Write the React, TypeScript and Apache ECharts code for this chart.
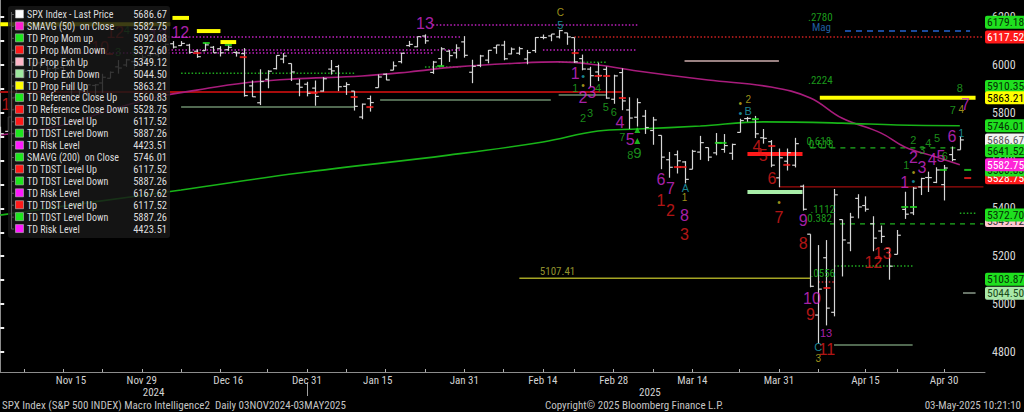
import React, { useEffect, useRef } from "react";
import * as echarts from "echarts";

// ---------- DATA ----------
const monthDays: [string, number[]][] = [
  ["Nov", [4, 5, 6, 7, 8, 11, 12, 13, 14, 15, 18, 19, 20, 21, 22, 25, 26, 27, 29]],
  ["Dec", [2, 3, 4, 5, 6, 9, 10, 11, 12, 13, 16, 17, 18, 19, 20, 23, 24, 26, 27, 30, 31]],
  ["Jan", [2, 3, 6, 7, 8, 10, 13, 14, 15, 16, 17, 21, 22, 23, 24, 27, 28, 29, 30, 31]],
  ["Feb", [3, 4, 5, 6, 7, 10, 11, 12, 13, 14, 18, 19, 20, 21, 24, 25, 26, 27, 28]],
  ["Mar", [3, 4, 5, 6, 7, 10, 11, 12, 13, 14, 17, 18, 19, 20, 21, 24, 25, 26, 27, 28, 31]],
  ["Apr", [1, 2, 3, 4, 7, 8, 9, 10, 11, 14, 15, 16, 17, 21, 22, 23, 24, 25, 28, 29, 30]],
  ["May", [1, 2]],
];
const dates: string[] = monthDays.flatMap(([m, ds]) => ds.map((d) => `${m} ${d}`));

const xLabelDates = ["Nov 15", "Nov 29", "Dec 16", "Dec 31", "Jan 15", "Jan 31", "Feb 14", "Feb 28", "Mar 14", "Mar 31", "Apr 15", "Apr 30"];
const xTickDates = ["Nov 7", "Nov 14", "Nov 21", "Nov 29", "Dec 6", "Dec 13", "Dec 23", "Dec 31", "Jan 8", "Jan 16", "Jan 24", "Jan 31", "Feb 7", "Feb 14", "Feb 21", "Feb 28", "Mar 7", "Mar 14", "Mar 24", "Mar 31", "Apr 7", "Apr 15", "Apr 22", "Apr 30"];
const years = ["2024", "2025"];
const yLabels = [4800, 5000, 5200, 5400, 5600, 5800, 6000, 6200];
const yTicks = [4800, 4900, 5000, 5100, 5200, 5300, 5400, 5500, 5600, 5700, 5800, 5900, 6000, 6100, 6200];

// open, high, low, close
const ohlc: number[][] = [
  [5723.22, 5741.43, 5696.51, 5712.69], [5722.43, 5783.44, 5722.1, 5782.76], [5864.89, 5936.14, 5864.89, 5929.04],
  [5947.21, 5983.84, 5947.21, 5973.1], [5976.76, 6012.45, 5976.76, 5995.54], [6008.86, 6017.31, 5986.69, 6001.35],
  [6003.6, 6009.92, 5960.08, 5983.99], [5985.75, 6008.19, 5965.91, 5985.38], [5989.68, 5993.88, 5946.91, 5949.17],
  [5912.79, 5915.92, 5853.01, 5870.62], [5874.17, 5908.12, 5865.95, 5893.62], [5857.3, 5917.14, 5850.94, 5916.98],
  [5914.38, 5920.59, 5860.14, 5917.11], [5924.77, 5963.44, 5883.53, 5948.71], [5944.36, 5972.9, 5944.36, 5969.34],
  [5992.28, 6020.75, 5963.91, 5987.37], [6000.03, 6025.42, 5992.27, 6021.63], [6014.11, 6020.16, 5984.87, 5998.74],
  [6003.98, 6044.17, 6003.98, 6032.38],
  [6040.11, 6053.58, 6035.33, 6047.15], [6042.97, 6052.07, 6033.39, 6049.88], [6069.39, 6089.84, 6061.06, 6086.49],
  [6089.03, 6099.97, 6069.39, 6075.11], [6081.38, 6099.97, 6079.98, 6090.27], [6083.01, 6088.51, 6047.49, 6052.85],
  [6057.59, 6065.4, 6029.89, 6034.91], [6060.15, 6092.59, 6060.15, 6084.19], [6074.29, 6079.68, 6051.25, 6051.25],
  [6068.17, 6078.58, 6035.77, 6051.09], [6063.79, 6085.19, 6059.14, 6074.08], [6052.55, 6057.68, 6035.19, 6050.61],
  [6047.65, 6070.67, 5867.79, 5872.16], [5912.71, 5935.52, 5866.07, 5867.08], [5842.0, 5982.06, 5832.3, 5930.85],
  [5940.25, 5978.25, 5902.57, 5974.07], [5984.74, 6040.1, 5981.44, 6040.04], [6024.97, 6049.75, 6007.37, 6037.59],
  [6006.17, 6006.17, 5932.95, 5970.84], [5920.67, 5940.79, 5869.16, 5906.94], [5919.74, 5929.74, 5868.86, 5881.63],
  [5903.26, 5935.09, 5829.53, 5868.55], [5891.07, 5949.34, 5888.66, 5942.47], [5982.81, 6021.04, 5960.01, 5975.38],
  [5993.26, 6000.68, 5890.68, 5909.03], [5910.66, 5927.89, 5874.78, 5918.25], [5890.66, 5890.66, 5809.37, 5827.04],
  [5782.29, 5838.78, 5773.31, 5836.22], [5859.11, 5871.92, 5805.12, 5842.91], [5905.21, 5960.61, 5905.21, 5949.91],
  [5961.39, 5964.69, 5936.33, 5937.34], [5978.45, 6014.96, 5978.45, 5996.66], [6014.12, 6051.51, 6006.88, 6049.24],
  [6081.39, 6100.81, 6076.13, 6086.37], [6076.32, 6118.73, 6074.67, 6118.71], [6121.43, 6128.18, 6088.74, 6101.24],
  [5969.04, 6017.17, 5962.92, 6012.28], [6026.97, 6074.54, 5994.63, 6067.7], [6057.7, 6062.83, 6012.96, 6039.31],
  [6050.75, 6086.64, 6027.46, 6071.17], [6096.79, 6120.91, 6030.93, 6040.53],
  [5969.65, 6022.13, 5923.93, 5994.57], [5998.14, 6042.48, 5990.87, 6037.88], [6020.45, 6062.86, 6007.06, 6061.48],
  [6072.22, 6084.03, 6046.83, 6083.57], [6083.13, 6101.28, 6019.96, 6025.99], [6046.4, 6073.38, 6044.84, 6066.44],
  [6049.32, 6076.28, 6042.34, 6068.5], [6025.08, 6063.18, 6003.0, 6051.97], [6060.59, 6116.91, 6051.07, 6115.07],
  [6115.52, 6127.47, 6107.62, 6114.63], [6121.6, 6129.63, 6099.51, 6129.58], [6117.76, 6147.43, 6111.15, 6144.15],
  [6134.5, 6134.5, 6084.59, 6117.52], [6114.82, 6114.82, 6008.56, 6013.13], [6026.69, 6043.65, 5977.83, 5983.25],
  [5982.73, 5992.65, 5908.49, 5955.25], [5970.87, 6009.82, 5932.69, 5956.06], [5981.88, 5993.69, 5858.78, 5861.57],
  [5856.74, 5959.4, 5837.66, 5954.5],
  [5968.33, 5986.09, 5810.91, 5849.72], [5811.98, 5865.08, 5732.59, 5778.15], [5781.46, 5860.59, 5742.35, 5842.63],
  [5785.87, 5812.08, 5711.64, 5738.52], [5726.01, 5783.01, 5666.29, 5770.2], [5705.37, 5705.37, 5564.02, 5614.56],
  [5603.65, 5636.3, 5528.41, 5572.07], [5624.84, 5642.19, 5546.09, 5599.3], [5594.45, 5597.78, 5504.65, 5521.52],
  [5563.85, 5645.27, 5563.85, 5638.94], [5635.6, 5703.52, 5603.1, 5675.12], [5654.53, 5654.53, 5597.76, 5614.66],
  [5632.37, 5715.33, 5622.2, 5675.29], [5646.92, 5711.15, 5632.95, 5662.89], [5630.73, 5670.84, 5603.1, 5667.56],
  [5718.08, 5775.14, 5718.08, 5767.57], [5775.78, 5783.02, 5762.67, 5776.65], [5771.66, 5786.95, 5694.23, 5712.2],
  [5695.64, 5732.28, 5670.94, 5693.31], [5679.31, 5685.89, 5572.42, 5580.94], [5527.91, 5650.57, 5488.73, 5611.85],
  [5597.53, 5650.57, 5558.52, 5633.07], [5580.76, 5695.31, 5571.48, 5670.97], [5492.74, 5499.53, 5390.83, 5396.52],
  [5292.14, 5292.14, 5069.9, 5074.08], [4953.79, 5246.57, 4835.04, 5062.25], [5193.57, 5267.47, 4910.42, 4982.77],
  [4965.28, 5481.34, 4948.43, 5456.9], [5353.15, 5353.15, 5115.27, 5268.05], [5255.56, 5381.46, 5220.77, 5363.36],
  [5441.96, 5459.46, 5358.02, 5405.97], [5411.99, 5450.41, 5386.44, 5396.63], [5335.75, 5367.24, 5220.79, 5275.7],
  [5305.45, 5328.31, 5255.58, 5282.7], [5232.94, 5232.94, 5101.63, 5158.2], [5207.67, 5309.6, 5207.67, 5287.76],
  [5395.93, 5469.69, 5356.09, 5375.86], [5381.38, 5489.4, 5371.96, 5484.77], [5489.73, 5528.11, 5455.86, 5525.21],
  [5529.22, 5553.66, 5468.64, 5528.75], [5508.87, 5571.95, 5505.7, 5560.83], [5499.44, 5581.84, 5433.24, 5569.06],
  [5625.14, 5658.91, 5597.35, 5604.14], [5645.24, 5700.69, 5645.24, 5686.67],
];

// moving averages: [day index, value]
const sma50: number[][] = [[0, 5707], [8, 5749], [14, 5812], [20, 5866], [25, 5895], [31, 5925], [37, 5941], [46, 5954], [52, 5971], [58, 5992], [66, 6008], [71, 6013], [76, 6000], [81, 5975], [90, 5937], [98, 5908], [103, 5862], [107, 5778], [112, 5715], [115, 5657], [119, 5615], [122, 5582.75]];
const sma200: number[][] = [[0, 5372], [11, 5423], [23, 5477], [38, 5548], [57, 5623], [69, 5678], [76, 5724], [81, 5732], [89, 5745], [97, 5762], [107, 5757], [114, 5749], [122, 5746.01]];

// horizontal level segments: [from index, to index, value]
const propFullUp = [[0, 21.6, 6171], [21.9, 24, 6197], [25, 28, 6142], [28, 30, 6096], [104.2, 124, 5863.21]];
const momDownBar = [[95, 102, 5628]];
const exhDownBar = [[95, 102, 5469]];
const tdstUpDotted = [[73, 125, 6117.52]];
const riskDotted = [[20, 58.5, 6117], [20, 58.5, 6063], [69, 81, 6063], [7.6, 55, 6050], [55, 81, 6167.62]];
const tdstDownSolid = [[0, 79, 5887.26]];
const greenDotted = [[23, 45, 5966], [54, 58.5, 5992], [71, 77, 6012], [106, 116, 5159], [122, 124, 5380]];
const refLines = [[23, 45, 5824], [48.3, 70, 5854], [71, 77, 5874], [106, 116, 4828]];
const exhUpLine = [[87, 99, 6017]];
const refCloseDown = [[99, 125, 5490]];
const fibDashed = [[103, 122, 5653], [105.5, 125, 5335]];
const targetLine = [[66, 103, 5107.41]];
const magLine = [[107.4, 123.3, 6142]];
const grayShort = [[122.4, 124, 5046]];
const redDottedShort = [[104, 106, 5092]];

// TD count annotations: [day index, value, text]
const magentaCounts: any[] = [[54, 6172, "13"], [22.9, 6138, "12"], [20.1, 6125, "13"], [73.1, 5966, "1"], [74.1, 5862, "2"], [75.2, 5883, "3"], [78.8, 5761, "4"], [80.1, 5690, "5"], [84, 5519, "6"], [85.2, 5485, "7"], [87, 5372, "8"], [102.1, 5351, "9"], [103.2, 5025, "10"], [115, 5510, "1"], [116.1, 5615, "2"], [117.2, 5573, "3"], [118.5, 5603, "4"], [119.6, 5619, "5"], [121, 5699, "6"], [122.7, 5833, "7"]];
const magentaSmall: any[] = [[105, 4879, "13"]];
const redCounts: any[] = [[14.6, 6134, "12"], [12.7, 6075, "10"], [1.3, 5833, "10"], [84, 5435, "1"], [85.2, 5393, "2"], [87, 5289, "3"], [96.2, 5657, "4"], [97, 5623, "5"], [98.1, 5527, "6"], [99, 5360, "7"], [102.1, 5255, "8"], [103, 4958, "9"], [105.1, 4808, "11"], [111, 5172, "12"], [112.2, 5213, "13"]];
const greenCounts: any[] = [[16.1, 6146, "4"], [15, 6054, "3"], [17.1, 6054, "5"], [73.1, 5904, "1"], [76, 5904, "4"], [74.1, 5778, "2"], [75, 5799, "3"], [77, 5824, "5"], [78, 5803, "6"], [79.1, 5699, "7"], [80.1, 5623, "8"], [115.2, 5582, "1"], [116.1, 5686, "2"], [117.2, 5644, "3"], [118, 5674, "4"], [119.1, 5695, "5"], [120.1, 5619, "6"], [121.1, 5812, "7"], [122, 5904, "8"]];
const greenNine: any[] = [[81, 5632, "9"]];
const yellowMarks: any[] = [[71.2, 6218, "C"], [87, 5444, "1"], [95.1, 5854, "2"], [104, 4774, "3"], [122.2, 5812, "4"], [74.1, 5916, "•"], [94.1, 5841, "•"], [99, 5423, "•"], [116.1, 5552, "•"]];
const cyanMarks: any[] = [[71.2, 6167, "5"], [87.1, 5485, "A"], [95.1, 5808, "B"], [104, 4820, "C"], [122.2, 5715, "1"], [74.1, 5954, "•"], [94.1, 5799, "•"], [116.1, 5515, "•"]];
const fibLabels: any[] = [[102.7, 6197, ".2780"], [102.7, 5937, ".2224"], [102.5, 5678, "0.618"], [102.8, 5669, "0.618"], [103, 5397, ".1112"], [102.6, 5356, "0.382"], [103, 5126, ".0556"]];
const magLabel: any[] = [[103.2, 6159, "Mag"]];
const targetLabel: any[] = [[68.6, 5134, "5107.41"]];
const redTicks: number[][] = [[13.9, 6046], [25, 6050], [30.9, 6033], [39.9, 5883], [45, 5866], [47, 5824], [73.1, 6050], [76, 5954], [77.1, 5954], [79.1, 5862], [86.1, 5573], [86.8, 5573], [98.1, 5661], [100, 5582], [105.1, 5067], [123, 5527]];
const greenTicks: number[][] = [[26.2, 6092], [29, 6084], [56, 5996], [91.3, 5674], [91.9, 5674], [96, 5774], [115, 5406], [116.1, 5406], [119.9, 5561], [123, 5561]];
const greenArrows: number[][] = [[81, 5728], [81, 5682]];

// right-hand value tags
const tagValues = [6179.18, 6117.52, 5910.35, 5863.21, 5746.01, 5686.67, 5641.52, 5528.75, 5560.83, 5582.75, 5349.12, 5372.7, 5103.87, 5044.5];
const tagKinds = ["green", "red", "green", "yellow", "green", "white", "green", "red", "green", "magenta", "pink", "green", "green", "light"];

// legend
const legendNames = ["SPX Index - Last Price", "SMAVG (50)  on Close", "TD Prop Mom up", "TD Prop Mom Down", "TD Prop Exh Up", "TD Prop Exh Down", "TD Prop Full Up", "TD Reference Close Up", "TD Reference Close Down", "TD TDST Level Up", "TD TDST Level Down", "TD Risk Level", "SMAVG (200)  on Close", "TD TDST Level Up", "TD TDST Level Down", "TD Risk Level", "TD TDST Level Up", "TD TDST Level Down", "TD Risk Level"];
const legendValues = ["5686.67", "5582.75", "5092.08", "5372.60", "5349.12", "5044.50", "5863.21", "5560.83", "5528.75", "6117.52", "5887.26", "4423.51", "5746.01", "6117.52", "5887.26", "6167.62", "6117.52", "5887.26", "4423.51"];
const legendColors = ["#ffffff", "#ff1fd0", "#1ee61e", "#ff1a1a", "#ffb6c8", "#9ee89e", "#ffff00", "#1ee61e", "#ff1a1a", "#ff1a1a", "#1ee61e", "#ff1aff", "#1ee61e", "#ff1a1a", "#1ee61e", "#ff1aff", "#ff1a1a", "#1ee61e", "#ff1aff"];

const footerLeft = "SPX Index (S&P 500 INDEX) Macro Intelligence2  Daily 03NOV2024-03MAY2025";
const footerMid = "Copyright\u00a9 2025 Bloomberg Finance L.P.";
const footerRight = "03-May-2025 10:21:10";

// ---------- STYLE ----------
const FONT = "'Liberation Sans Narrow','Arial Narrow','Roboto Condensed','DejaVu Sans Condensed',sans-serif";
const FONT2 = "'Liberation Sans',Arial,sans-serif";
const tagStyle: Record<string, { bg: string; fg: string }> = {
  green: { bg: "#1fe01f", fg: "#063006" },
  red: { bg: "#ff1a1a", fg: "#ffffff" },
  yellow: { bg: "#ffff00", fg: "#000000" },
  white: { bg: "#f2f2f2", fg: "#555555" },
  magenta: { bg: "#ff24d8", fg: "#ffffff" },
  pink: { bg: "#ffc8d2", fg: "#333333" },
  light: { bg: "#a8e8a8", fg: "#1a4a1a" },
};

function segSeries(name: string, segs: number[][], color: string, width: number, dash?: number[]) {
  return {
    type: "custom",
    name,
    silent: true,
    z: 1,
    data: segs,
    encode: { x: [0, 1], y: 2 },
    renderItem: (_p: any, api: any) => {
      const a = api.coord([api.value(0), api.value(2)]);
      const b = api.coord([api.value(1), api.value(2)]);
      return {
        type: "line",
        shape: { x1: a[0], y1: a[1], x2: b[0], y2: b[1] },
        style: { stroke: color, lineWidth: width, lineDash: dash || null },
      };
    },
  };
}

function textSeries(name: string, pts: any[], color: string, size: number, align: string = "center", family: string = FONT2) {
  return {
    type: "scatter",
    name,
    silent: true,
    z: 6,
    data: pts,
    symbolSize: 0,
    label: {
      show: true,
      position: "inside",
      align,
      formatter: (p: any) => p.data[2],
      color,
      fontSize: size,
      fontFamily: family,
    },
  };
}

function tickSeries(name: string, pts: number[][], color: string) {
  return {
    type: "scatter",
    name,
    silent: true,
    z: 5,
    data: pts,
    symbol: "rect",
    symbolSize: [7, 2],
    itemStyle: { color },
  };
}

export default function App() {
  const ref = useRef<HTMLDivElement>(null);
  useEffect(() => {
    if (!ref.current) return;
    const chart = echarts.init(ref.current, undefined, { renderer: "svg" });
    const labelIdx = xLabelDates.map((d) => dates.indexOf(d));
    const tickIdx = xTickDates.map((d) => dates.indexOf(d));
    const firstNextYear = dates.indexOf("Jan 2");
    const xMax = 125.2;
    const yearCenters = [(firstNextYear - 1) / 2, (firstNextYear + xMax) / 2];

    const rowY = (i: number) => 14.5 + i * 11.92;
    const legendEls: any[] = [
      { type: "rect", z: 100, shape: { x: 8, y: 6, width: 162, height: 232, r: 3 }, style: { fill: "rgba(24,24,24,0.84)" } },
      { type: "line", z: 101, shape: { x1: 11.5, y1: 12, x2: 11.5, y2: rowY(18) }, style: { stroke: "#5a5a5a", lineWidth: 1 } },
    ];
    legendNames.forEach((name, i) => {
      const y = rowY(i);
      legendEls.push({ type: "line", z: 101, shape: { x1: 11.5, y1: y, x2: 14, y2: y }, style: { stroke: "#5a5a5a", lineWidth: 1 } });
      legendEls.push({ type: "rect", z: 101, shape: { x: 15.5, y: y - 4.5, width: 8, height: 8 }, style: { fill: legendColors[i], stroke: "#bbbbbb", lineWidth: 0.6 } });
      legendEls.push({ type: "text", z: 101, x: 27, y, style: { text: name, fill: "#dcdcdc", font: `10px ${FONT}`, verticalAlign: "middle", align: "left" } });
      legendEls.push({ type: "text", z: 101, x: 167, y, style: { text: legendValues[i], fill: "#dcdcdc", font: `10.5px ${FONT}`, verticalAlign: "middle", align: "right" } });
    });
    const footerEls: any[] = [
      { type: "text", x: 2, y: 405, style: { text: footerLeft, fill: "#c4c4c4", font: `11px ${FONT}`, verticalAlign: "middle" } },
      { type: "text", x: 545, y: 405, style: { text: footerMid, fill: "#c4c4c4", font: `11px ${FONT}`, verticalAlign: "middle" } },
      { type: "text", x: 1021, y: 405, style: { text: footerRight, fill: "#c4c4c4", font: `11px ${FONT}`, verticalAlign: "middle", align: "right" } },
    ];

    const option: any = {
      animation: false,
      backgroundColor: "#000000",
      grid: { left: 0, right: 39, top: 0, bottom: 40, containLabel: false },
      xAxis: [
        {
          type: "value",
          min: -0.025,
          max: xMax,
          position: "bottom",
          splitLine: { show: false },
          axisLine: { show: true, lineStyle: { color: "#8c8c8c", width: 1 } },
          axisTick: { show: true, customValues: tickIdx, inside: true, length: 3, lineStyle: { color: "#b0b0b0" } },
          axisLabel: {
            customValues: labelIdx,
            formatter: (v: number) => dates[Math.round(v)] || "",
            color: "#d2d2d2",
            fontSize: 11,
            margin: 3,
            fontFamily: FONT,
          },
        },
        {
          type: "value",
          min: -0.025,
          max: xMax,
          position: "bottom",
          offset: 10,
          splitLine: { show: false },
          axisLine: { show: false },
          axisTick: { show: false },
          axisLabel: {
            customValues: yearCenters,
            formatter: (v: number) => (v < firstNextYear ? years[0] : years[1]),
            color: "#d2d2d2",
            fontSize: 11,
            margin: 5,
            fontFamily: FONT,
          },
        },
      ],
      yAxis: {
        type: "value",
        position: "right",
        min: 4715.5,
        max: 6272,
        splitLine: { show: false },
        axisLine: { show: true, lineStyle: { color: "#8c8c8c", width: 1 } },
        axisTick: { show: true, customValues: yTicks, length: 4, lineStyle: { color: "#f0f0f0", width: 2 } },
        axisLabel: { customValues: yLabels, formatter: (v: number) => String(v), color: "#d8d8d8", fontSize: 12, margin: 7, fontFamily: FONT },
      },
      series: [
        segSeries("TD Prop Full Up", propFullUp, "#ffff00", 4),
        segSeries("TD Prop Mom Down", momDownBar, "#ff1a1a", 4),
        segSeries("TD Prop Exh Down", exhDownBar, "#a8eea8", 4),
        segSeries("TD TDST Level Up", tdstUpDotted, "#d02020", 1.5, [1.5, 2]),
        segSeries("TD Risk Level", riskDotted, "#c020c0", 1.5, [1.5, 2]),
        segSeries("TD TDST Level Down", tdstDownSolid, "#a80c0c", 2),
        segSeries("TD Reference Up", greenDotted, "#1fa81f", 1.5, [1.5, 2]),
        segSeries("TD Reference", refLines, "#6c8c6c", 1.5),
        segSeries("TD Prop Exh Up", exhUpLine, "#9a8282", 2),
        segSeries("TD Reference Close Down", refCloseDown, "#c81010", 1),
        segSeries("Fib", fibDashed, "#1fb01f", 1.2, [5, 5]),
        segSeries("Target", targetLine, "#a4a424", 1.5),
        segSeries("Mag", magLine, "#2464d0", 1.5, [6, 5]),
        segSeries("Exh Down short", grayShort, "#8a9a8a", 1.5),
        segSeries("Mom short", redDottedShort, "#c02020", 1.5, [1.5, 2]),
        {
          type: "line",
          name: "SMAVG (50)",
          data: sma50,
          smooth: 0.4,
          showSymbol: false,
          silent: true,
          z: 2,
          lineStyle: { color: "#a81c7c", width: 1.6 },
        },
        {
          type: "line",
          name: "SMAVG (200)",
          data: sma200,
          smooth: 0.4,
          showSymbol: false,
          silent: true,
          z: 2,
          lineStyle: { color: "#18b418", width: 1.6 },
          markLine: {
            silent: true,
            symbol: "none",
            animation: false,
            data: tagValues.map((v, i) => ({
              yAxis: v,
              lineStyle: { color: "rgba(0,0,0,0)", width: 0 },
              label: {
                show: true,
                position: "end",
                distance: 0,
                formatter: v.toFixed(2),
                color: tagStyle[tagKinds[i]].fg,
                backgroundColor: tagStyle[tagKinds[i]].bg,
                padding: [1, 2, 0, 2],
                borderRadius: 2,
                fontSize: 11.5,
                fontFamily: FONT,
              },
            })),
          },
        },
        {
          type: "custom",
          name: "SPX Index",
          silent: true,
          z: 3,
          data: ohlc.map((d, i) => [i, ...d]),
          encode: { x: 0, y: [1, 2, 3, 4] },
          renderItem: (_p: any, api: any) => {
            const i = api.value(0);
            const pO = api.coord([i, api.value(1)]);
            const pH = api.coord([i, api.value(2)]);
            const pL = api.coord([i, api.value(3)]);
            const pC = api.coord([i, api.value(4)]);
            const w = api.size([1, 0])[0] * 0.42;
            const x = Math.round(pH[0]) + 0.5;
            const st = { stroke: "#d6d6d6", lineWidth: 1.2 };
            return {
              type: "group",
              children: [
                { type: "line", shape: { x1: x, y1: pH[1], x2: x, y2: pL[1] }, style: st },
                { type: "line", shape: { x1: x - w, y1: pO[1], x2: x, y2: pO[1] }, style: st },
                { type: "line", shape: { x1: x, y1: pC[1], x2: x + w, y2: pC[1] }, style: st },
              ],
            };
          },
        },
        tickSeries("Ref close down", redTicks, "#ff2020"),
        tickSeries("Ref close up", greenTicks, "#22dd22"),
        {
          type: "scatter",
          name: "arrows",
          silent: true,
          z: 5,
          data: greenArrows,
          symbol: "triangle",
          symbolSize: 6,
          itemStyle: { color: "#22dd22" },
        },
        textSeries("Combo", magentaCounts, "#d42ad4", 16),
        textSeries("Combo small", magentaSmall, "#d42ad4", 11),
        textSeries("Sequential", redCounts, "#e01c1c", 16),
        textSeries("Setup", greenCounts, "#22b022", 11),
        textSeries("Setup 9", greenNine, "#22b022", 15),
        textSeries("Yellow", yellowMarks, "#c8b820", 10),
        textSeries("Cyan", cyanMarks, "#22a8b8", 11),
        textSeries("Fib labels", fibLabels, "#22c022", 11, "left", FONT),
        textSeries("Mag label", magLabel, "#2878c8", 11, "left", FONT),
        textSeries("Target label", targetLabel, "#b8b83a", 11, "left", FONT),
      ],
      graphic: { elements: [...legendEls, ...footerEls] },
    };
    chart.setOption(option);
    // year separator below the date axis, placed through the axis scale
    const sepX = chart.convertToPixel({ xAxisIndex: 0 }, firstNextYear - 1) as number;
    if (typeof sepX === "number" && isFinite(sepX)) {
      const sx = Math.round(sepX) + 0.5;
      chart.setOption({
        graphic: {
          elements: [
            ...legendEls,
            ...footerEls,
            { type: "line", shape: { x1: sx, y1: 383, x2: sx, y2: 396 }, style: { stroke: "#a0a0a0", lineWidth: 1 } },
          ],
        },
      });
    }
    return () => chart.dispose();
  }, []);
  return <div ref={ref} style={{ position: "fixed", left: 0, top: 0, width: 1024, height: 412, background: "#000" }} />;
}
